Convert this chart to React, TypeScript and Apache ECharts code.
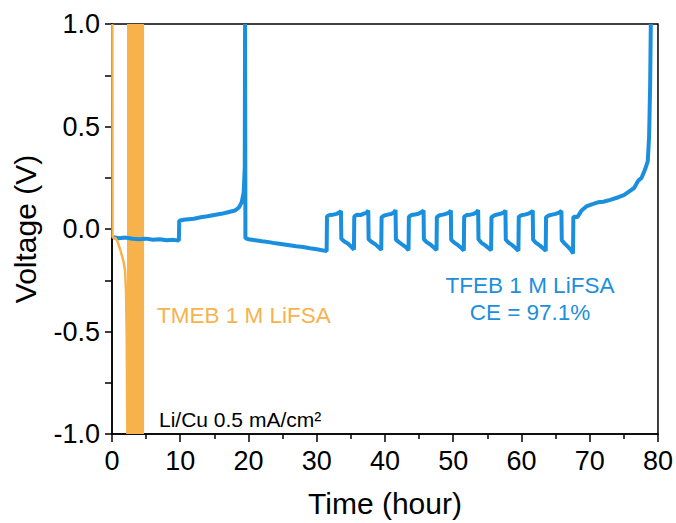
import React, { useEffect, useRef } from "react";
import * as echarts from "echarts";

const xTicks = [0, 10, 20, 30, 40, 50, 60, 70, 80];
const yTicks = [-1.0, -0.5, 0.0, 0.5, 1.0];

// TFEB 1 M LiFSA voltage profile (time h, voltage V)
const tfebSeries: [number, number][] = [
  [0.2, -0.04], [1, -0.045], [2, -0.042], [3, -0.048], [4, -0.05], [5, -0.047], [6, -0.052], [7, -0.05], [8, -0.055], [9, -0.053], [9.8, -0.056],
  [9.85, 0.04], [10.5, 0.045], [12, 0.05], [13, 0.057], [14, 0.062], [15, 0.068], [16, 0.074], [17, 0.082], [18, 0.09], [18.6, 0.105], [19.0, 0.13], [19.3, 0.18], [19.45, 0.3], [19.5, 1.0],
  [19.55, -0.045], [20, -0.05], [21, -0.055], [22, -0.06], [23, -0.064], [24, -0.07], [25, -0.074], [26, -0.079], [27, -0.084], [28, -0.088], [29, -0.094], [30, -0.099], [31.45, -0.108],
  [31.5, 0.062], [31.9, 0.068], [32.4, 0.07], [32.9, 0.074], [33.3, 0.08], [33.55, 0.088], [33.6, -0.048], [34.0, -0.06], [34.6, -0.072], [35.1, -0.088], [35.45, -0.1],
  [35.5, 0.06], [35.9, 0.07], [36.4, 0.068], [36.9, 0.075], [37.3, 0.079], [37.55, 0.09], [37.6, -0.05], [38.0, -0.062], [38.6, -0.075], [39.1, -0.09], [39.45, -0.102],
  [39.5, 0.058], [39.9, 0.066], [40.4, 0.07], [40.9, 0.073], [41.3, 0.08], [41.55, 0.092], [41.6, -0.052], [42.0, -0.063], [42.6, -0.078], [43.1, -0.09], [43.45, -0.104],
  [43.5, 0.06], [43.9, 0.068], [44.4, 0.071], [44.9, 0.074], [45.3, 0.082], [45.65, 0.09], [45.7, -0.05], [46.1, -0.064], [46.7, -0.077], [47.2, -0.092], [47.55, -0.103],
  [47.6, 0.058], [48.0, 0.067], [48.5, 0.07], [49.0, 0.075], [49.4, 0.08], [49.65, 0.09], [49.7, -0.053], [50.1, -0.065], [50.7, -0.079], [51.2, -0.093], [51.55, -0.105],
  [51.6, 0.06], [52.0, 0.068], [52.5, 0.07], [53.0, 0.074], [53.4, 0.081], [53.65, 0.092], [53.7, -0.05], [54.1, -0.066], [54.7, -0.08], [55.2, -0.094], [55.55, -0.104],
  [55.6, 0.058], [56.0, 0.066], [56.5, 0.071], [57.0, 0.075], [57.4, 0.08], [57.65, 0.09], [57.7, -0.052], [58.1, -0.066], [58.7, -0.08], [59.2, -0.095], [59.55, -0.106],
  [59.6, 0.06], [60.0, 0.067], [60.5, 0.07], [61.0, 0.075], [61.4, 0.081], [61.65, 0.09], [61.7, -0.052], [62.1, -0.067], [62.7, -0.081], [63.2, -0.095], [63.55, -0.107],
  [63.6, 0.058], [64.0, 0.066], [64.5, 0.07], [65.0, 0.074], [65.5, 0.08], [65.85, 0.088], [65.9, -0.055], [66.3, -0.07], [66.9, -0.09], [67.3, -0.105], [67.55, -0.12],
  [67.6, 0.06], [68.2, 0.058], [68.8, 0.09], [69.5, 0.11], [70.3, 0.12], [71.2, 0.13], [72, 0.133], [73, 0.142], [74.2, 0.155], [75, 0.165], [75.9, 0.186], [76.5, 0.2], [77.1, 0.235], [77.6, 0.25], [78.1, 0.29], [78.5, 0.33], [78.7, 0.45], [78.85, 0.7], [78.95, 1.0],
];

// TMEB 1 M LiFSA voltage profile (time h, voltage V)
const tmebSeries: [number, number][] = [
  [0.05, 1.0], [0.08, -0.04], [0.5, -0.045], [0.8, -0.06], [1.0, -0.08], [1.2, -0.1], [1.45, -0.13], [1.7, -0.16], [1.9, -0.2], [2.05, -0.3], [2.15, -0.5], [2.25, -1.0],
];
// time span (h) of the rapid TMEB oscillation band between -1 and 1 V
const tmebBand: [number, number] = [2.2, 4.7];

const BLUE = "#1a8fdd";
const ORANGE = "#f7b24c";
const FONT = "Liberation Sans, Arial, sans-serif";

export default function App() {
  const ref = useRef<HTMLDivElement>(null);
  useEffect(() => {
    if (!ref.current) return;
    const chart = echarts.init(ref.current, null, { renderer: "svg" });
    chart.setOption({
      animation: false,
      backgroundColor: "#fff",
      grid: { left: 112, right: 16, top: 24, bottom: 87, show: true, borderColor: "#000", borderWidth: 1.5, backgroundColor: "transparent" },
      xAxis: {
        type: "value", min: xTicks[0], max: xTicks[xTicks.length - 1], interval: 10,
        name: "Time (hour)", nameLocation: "middle", nameGap: 54,
        nameTextStyle: { fontFamily: FONT, fontSize: 30, color: "#000" },
        axisLine: { show: true, onZero: false, lineStyle: { color: "#000", width: 1.5 } },
        axisTick: { show: true, inside: false, length: 8, lineStyle: { color: "#000", width: 1.5 } },
        minorTick: { show: true, splitNumber: 2, length: 5, lineStyle: { color: "#000", width: 1.5 } },
        axisLabel: { fontFamily: FONT, fontSize: 27, color: "#000", margin: 13 },
        splitLine: { show: false },
      },
      yAxis: {
        type: "value", min: yTicks[0], max: yTicks[yTicks.length - 1], interval: 0.5,
        name: "Voltage (V)", nameLocation: "middle", nameGap: 72, nameRotate: 90,
        nameTextStyle: { fontFamily: FONT, fontSize: 30, color: "#000" },
        axisLine: { show: true, lineStyle: { color: "#000", width: 1.5 } },
        axisTick: { show: true, inside: false, length: 7, lineStyle: { color: "#000", width: 1.5 } },
        minorTick: { show: true, splitNumber: 2, length: 7, lineStyle: { color: "#000", width: 1.5 } },
        axisLabel: { fontFamily: FONT, fontSize: 27, color: "#000", margin: 12, formatter: (v: number) => v.toFixed(1) },
        splitLine: { show: false },
      },
      series: [
        {
          type: "line", data: tfebSeries, showSymbol: false, symbol: "none", clip: true,
          lineStyle: { color: BLUE, width: 4 }, z: 2,
        },
        {
          type: "line", data: tmebSeries, showSymbol: false, symbol: "none", clip: true,
          lineStyle: { color: ORANGE, width: 2.5 }, z: 3,
          markArea: {
            silent: true,
            itemStyle: { color: ORANGE, opacity: 1 },
            data: [[{ xAxis: tmebBand[0] }, { xAxis: tmebBand[1] }]],
          },
        },
      ],
      graphic: [
        { type: "text", left: 157, top: 304, style: { text: "TMEB 1 M LiFSA", fontFamily: FONT, fontSize: 22.5, fill: ORANGE } },
        { type: "text", x: 530, y: 272, style: { text: "TFEB 1 M LiFSA\nCE = 97.1%", fontFamily: FONT, fontSize: 22.5, fill: BLUE, align: "center", lineHeight: 27 } },
        { type: "text", left: 159, top: 409, style: { text: "Li/Cu 0.5 mA/cm²", fontFamily: FONT, fontSize: 21, fill: "#000" } },
      ],
    });
    return () => chart.dispose();
  }, []);
  return <div ref={ref} style={{ position: "absolute", left: 0, top: 0, width: 676, height: 523 }} />;
}
